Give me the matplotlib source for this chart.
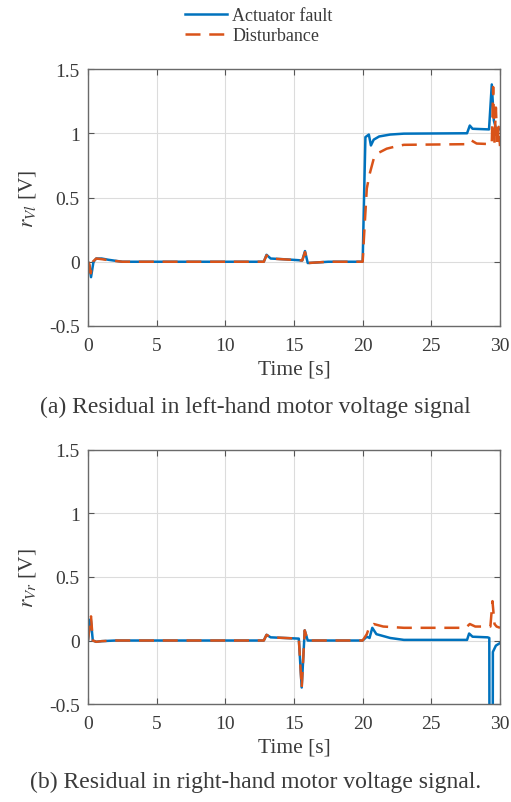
import matplotlib

matplotlib.use("Agg")
import matplotlib.pyplot as plt
from matplotlib.lines import Line2D

plt.rcParams["font.family"] = ["Liberation Serif", "DejaVu Serif"]
plt.rcParams["mathtext.fontset"] = "stix"

TXT = "#3a3a3a"
BLUE = "#0072BD"
RED = "#D95319"

# ── data ──────────────────────────────────────────────────────────────────
# (a) left-hand motor voltage residual
t_left_fault = [0, 0.1, 0.22, 0.4, 0.6, 1.0, 1.5, 2.5, 12.8, 13.0, 13.3, 14.5,
                15.6, 15.8, 16.0, 17.5, 20.0, 20.1, 20.2, 20.45, 20.6, 20.8,
                21.2, 22.0, 23.0, 27.6, 27.8, 28.0, 29.2, 29.4, 29.55, 29.7, 30]
r_left_fault = [0, -0.03, -0.12, 0.0, 0.025, 0.025, 0.015, 0.0, 0.0, 0.054,
                0.025, 0.018, 0.01, 0.083, -0.01, 0.0, 0.0, 0.5, 0.97, 0.99,
                0.905, 0.95, 0.975, 0.99, 0.997, 1.0, 1.06, 1.035, 1.03, 1.38,
                1.1, 1.04, 1.03]

t_left_dist = [0, 0.1, 0.2, 0.35, 0.6, 1.0, 1.5, 2.5, 12.8, 13.0, 13.3, 15.6,
               15.8, 16.0, 17.5, 20.0, 20.1, 20.3, 20.5, 20.8, 21.2, 21.75,
               22.5, 23.0, 27.5, 27.9, 28.3, 29.4, 29.5, 29.6, 29.7, 29.8,
               29.9, 30]
r_left_dist = [0, -0.02, -0.09, 0.0, 0.025, 0.02, 0.012, 0.0, 0.0, 0.05, 0.025,
               0.01, 0.075, -0.01, 0.0, 0.0, 0.2, 0.57, 0.68, 0.80, 0.85, 0.88,
               0.90, 0.91, 0.915, 0.945, 0.92, 0.915, 1.36, 0.92, 1.2, 0.9,
               1.05, 0.9]

# (b) right-hand motor voltage residual
t_right_fault = [0, 0.1, 0.2, 0.35, 0.6, 1.0, 2.0, 12.8, 13.0, 13.3, 15.35,
                 15.56, 15.78, 16.0, 20.0, 20.3, 20.5, 20.7, 21.0, 22.0, 23.0,
                 27.6, 27.75, 28.0, 29.1, 29.22, 29.25, 29.45, 29.48, 29.7, 30]
r_right_fault = [0, 0.1, 0.17, 0.0, -0.01, -0.005, 0.0, 0.0, 0.045, 0.025,
                 0.015, -0.37, 0.08, 0.0, 0.0, 0.03, 0.02, 0.1, 0.05, 0.02,
                 0.005, 0.005, 0.055, 0.03, 0.025, 0.02, -2.0, -2.0, -0.09,
                 -0.04, -0.02]

t_right_dist = [0, 0.1, 0.22, 0.35, 0.6, 1.0, 2.0, 12.8, 13.0, 13.3, 15.35,
                15.56, 15.78, 16.0, 20.0, 20.3, 20.5, 20.8, 21.5, 23.0, 27.5,
                27.8, 28.2, 29.3, 29.45, 29.6, 29.75, 30]
r_right_dist = [0, 0.1, 0.19, 0.0, -0.01, -0.005, 0.0, 0.0, 0.045, 0.025,
                0.015, -0.37, 0.08, 0.0, 0.0, 0.05, 0.11, 0.13, 0.11, 0.10,
                0.10, 0.13, 0.11, 0.11, 0.31, 0.13, 0.11, 0.1]

x_ticks = [0, 5, 10, 15, 20, 25, 30]
y_ticks = [-0.5, 0, 0.5, 1, 1.5]
y_tick_labels = ["-0.5", "0", "0.5", "1", "1.5"]


def _style_axes(ax, ylabel):
    ax.set_xlim(0, 30)
    ax.set_ylim(-0.5, 1.5)
    ax.set_xticks(x_ticks)
    ax.set_yticks(y_ticks)
    ax.set_yticklabels(y_tick_labels)
    ax.grid(True, color="#dcdcdc", linewidth=0.8)
    ax.set_axisbelow(True)
    ax.tick_params(direction="in", top=True, right=True, length=4,
                   color="#555555", labelsize=14, labelcolor=TXT)
    ax.tick_params(axis="x", pad=8)
    ax.tick_params(axis="y", pad=6)
    for sp in ax.spines.values():
        sp.set_color("#6a6a6a")
        sp.set_linewidth(1.0)
    ax.set_xlabel("Time [s]", fontsize=15.5, color=TXT, labelpad=4)
    ax.set_ylabel(ylabel, fontsize=15.5, color=TXT, labelpad=8)


def _plot(ax, tf, rf, td, rd):
    ax.plot(tf, rf, color=BLUE, linewidth=1.8)
    ax.plot(td, rd, color=RED, linewidth=1.8, dashes=(6, 3.5))


fig = plt.figure(figsize=(5.11, 8.03), dpi=100)
ax1 = fig.add_axes([0.1722, 0.5928, 0.8063, 0.3200])
ax2 = fig.add_axes([0.1722, 0.1220, 0.8063, 0.3164])

_plot(ax1, t_left_fault, r_left_fault, t_left_dist, r_left_dist)
_style_axes(ax1, r"$r_{Vl}$ [V]")
_plot(ax2, t_right_fault, r_right_fault, t_right_dist, r_right_dist)
_style_axes(ax2, r"$r_{Vr}$ [V]")

handles = [Line2D([], [], color=BLUE, linewidth=1.8),
           Line2D([], [], color=RED, linewidth=1.8, dashes=(6, 3.5))]
fig.legend(handles, ["Actuator fault", "Disturbance"], loc="upper center",
           bbox_to_anchor=(0.507, 1.01), frameon=False, fontsize=13,
           handlelength=2.3, handletextpad=0.3, labelspacing=0.15,
           labelcolor=TXT)

fig.text(0.5, 1 - 407 / 803, "(a) Residual in left-hand motor voltage signal",
         ha="center", va="center", fontsize=17, color=TXT)
fig.text(0.5, 1 - 782 / 803, "(b) Residual in right-hand motor voltage signal.",
         ha="center", va="center", fontsize=17, color=TXT)

fig.savefig("out.png", dpi=100, facecolor="white")
